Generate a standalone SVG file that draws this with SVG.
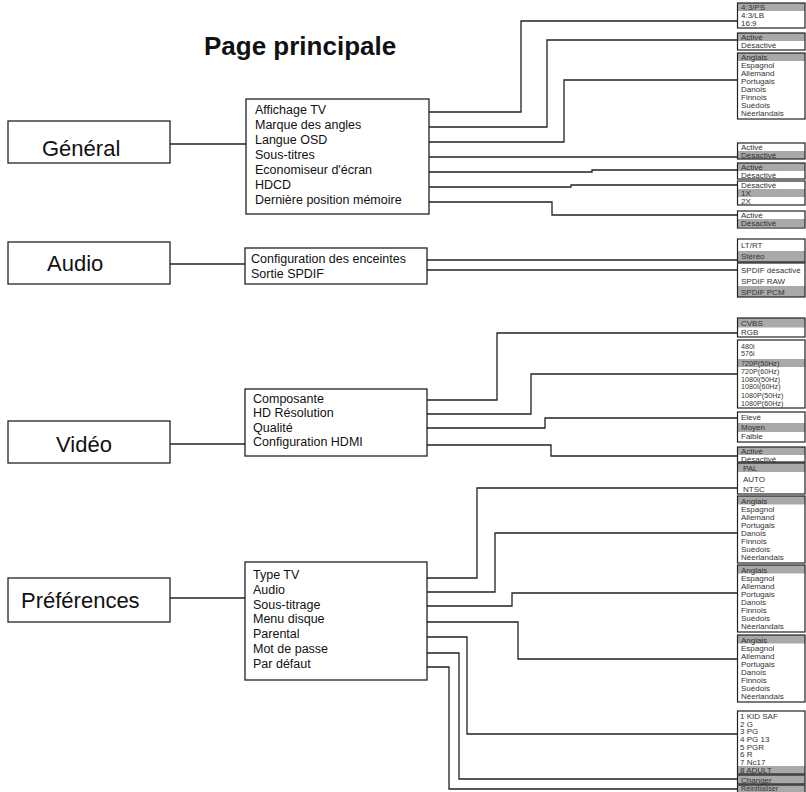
<svg xmlns="http://www.w3.org/2000/svg" width="806" height="792" viewBox="0 0 806 792">
<style>
.bg{fill:#fff}
.box{fill:#fff;stroke:#222;stroke-width:1.3}
.ob{fill:none;stroke:#222;stroke-width:1.2}
.hl{fill:#a9a9a9}
.title{font-family:"Liberation Sans",Arial,sans-serif;font-weight:bold;font-size:26px;fill:#111}
.big{font-family:"Liberation Sans",Arial,sans-serif;font-size:22px;fill:#111}
.mid{font-family:"Liberation Sans",Arial,sans-serif;font-size:12.5px;fill:#111}
.opt{font-family:"Liberation Sans",Arial,sans-serif;font-size:8px;fill:#333}
.sm{font-size:7.2px}
.c{fill:none;stroke:#222;stroke-width:1.3}
</style>
<rect class="bg" x="0" y="0" width="806" height="792"/>
<text class="title" x="204" y="55">Page principale</text>

<g id="connectors">
<path class="c" d="M170,144H246"/>
<path class="c" d="M170,264H245"/>
<path class="c" d="M170,444H245"/>
<path class="c" d="M170,598H245"/>
<path class="c" d="M348,112H521V21H737"/>
<path class="c" d="M371,127H547V40H737"/>
<path class="c" d="M351,142H564V80H737"/>
<path class="c" d="M321,157H737"/>
<path class="c" d="M380,172H592V170H737"/>
<path class="c" d="M317,187H571V185H737"/>
<path class="c" d="M410,202H552V215H737"/>
<path class="c" d="M409,260H737"/>
<path class="c" d="M328,270H737"/>
<path class="c" d="M347,400H497V333H737"/>
<path class="c" d="M338,414H531V374H737"/>
<path class="c" d="M312,428H545V418H737"/>
<path class="c" d="M370,445H551V456H737"/>
<path class="c" d="M313,578H477V488H737"/>
<path class="c" d="M323,592H495V533H737"/>
<path class="c" d="M329,606H512V593H737"/>
<path class="c" d="M339,622H518V659H737"/>
<path class="c" d="M304,637H467V734H737"/>
<path class="c" d="M340,653H459V779H737"/>
<path class="c" d="M334,667H449V789H737"/>
</g>

<g id="general">
<rect class="box" x="8" y="121" width="162" height="42"/>
<text class="big" x="42" y="156">Général</text>
</g>
<g id="audio">
<rect class="box" x="8" y="242" width="162" height="42"/>
<text class="big" x="47" y="271">Audio</text>
</g>
<g id="video">
<rect class="box" x="8" y="421" width="162" height="42"/>
<text class="big" x="56" y="452">Vidéo</text>
</g>
<g id="preferences">
<rect class="box" x="8" y="578" width="162" height="44"/>
<text class="big" x="21" y="608">Préférences</text>
</g>

<g id="general-menu">
<rect class="box" x="246" y="99" width="183" height="115"/>
<text class="mid" x="255" y="114">Affichage TV</text>
<text class="mid" x="255" y="129">Marque des angles</text>
<text class="mid" x="255" y="144">Langue OSD</text>
<text class="mid" x="255" y="159">Sous-titres</text>
<text class="mid" x="255" y="174">Economiseur d'écran</text>
<text class="mid" x="255" y="189">HDCD</text>
<text class="mid" x="255" y="204">Dernière position mémoire</text>
</g>
<g id="audio-menu">
<rect class="box" x="245" y="248" width="182" height="36"/>
<text class="mid" x="251" y="263">Configuration des enceintes</text>
<text class="mid" x="251" y="278">Sortie SPDIF</text>
</g>
<g id="video-menu">
<rect class="box" x="245" y="389" width="182" height="67"/>
<text class="mid" x="253" y="403">Composante</text>
<text class="mid" x="253" y="417">HD Résolution</text>
<text class="mid" x="253" y="431.5">Qualité</text>
<text class="mid" x="253" y="446">Configuration HDMI</text>
</g>
<g id="preferences-menu">
<rect class="box" x="245" y="562" width="182" height="118"/>
<text class="mid" x="253" y="579">Type TV</text>
<text class="mid" x="253" y="594">Audio</text>
<text class="mid" x="253" y="608.5">Sous-titrage</text>
<text class="mid" x="253" y="623">Menu disque</text>
<text class="mid" x="253" y="638">Parental</text>
<text class="mid" x="253" y="653">Mot de passe</text>
<text class="mid" x="253" y="667.5">Par défaut</text>
</g>

<g id="opt-affichage">
<rect class="hl" x="737" y="3" width="68" height="8"/>
<rect class="ob" x="737.5" y="3" width="67.5" height="25"/>
<text class="opt" x="741" y="10">4:3/PS</text>
<text class="opt" x="741" y="18">4:3/LB</text>
<text class="opt" x="741" y="26">16:9</text>
</g>
<g id="opt-angles">
<rect class="hl" x="737" y="33" width="68" height="8"/>
<rect class="ob" x="737.5" y="33" width="67.5" height="17"/>
<text class="opt" x="741" y="40">Activé</text>
<text class="opt" x="741" y="48">Désactivé</text>
</g>
<g id="opt-osd">
<rect class="hl" x="737" y="53" width="68" height="8"/>
<rect class="ob" x="737.5" y="53" width="67.5" height="66"/>
<text class="opt" x="741" y="60">Anglais</text>
<text class="opt" x="741" y="68">Espagnol</text>
<text class="opt" x="741" y="76">Allemand</text>
<text class="opt" x="741" y="84">Portugais</text>
<text class="opt" x="741" y="92">Danois</text>
<text class="opt" x="741" y="100">Finnois</text>
<text class="opt" x="741" y="108">Suédois</text>
<text class="opt" x="741" y="116">Néerlandais</text>
</g>
<g id="opt-soustitres">
<rect class="hl" x="737" y="151" width="68" height="8"/>
<rect class="ob" x="737.5" y="143" width="67.5" height="16"/>
<text class="opt" x="741" y="150">Activé</text>
<text class="opt" x="741" y="158">Désactivé</text>
</g>
<g id="opt-economiseur">
<rect class="hl" x="737" y="163" width="68" height="8"/>
<rect class="ob" x="737.5" y="163" width="67.5" height="16"/>
<text class="opt" x="741" y="170">Activé</text>
<text class="opt" x="741" y="178">Désactivé</text>
</g>
<g id="opt-hdcd">
<rect class="hl" x="737" y="189" width="68" height="8"/>
<rect class="ob" x="737.5" y="181" width="67.5" height="24"/>
<text class="opt" x="741" y="188">Désactivé</text>
<text class="opt" x="741" y="196">1X</text>
<text class="opt" x="741" y="204">2X</text>
</g>
<g id="opt-memoire">
<rect class="hl" x="737" y="219" width="68" height="8"/>
<rect class="ob" x="737.5" y="211" width="67.5" height="17"/>
<text class="opt" x="741" y="218">Activé</text>
<text class="opt" x="741" y="226">Désactivé</text>
</g>

<g id="opt-enceintes">
<rect class="hl" x="737" y="251" width="68" height="11"/>
<rect class="ob" x="737.5" y="239" width="67.5" height="23"/>
<text class="opt" x="741" y="248">LT/RT</text>
<text class="opt" x="741" y="259">Stéréo</text>
</g>
<g id="opt-spdif">
<rect class="hl" x="737" y="286" width="68" height="11"/>
<rect class="ob" x="737.5" y="263" width="67.5" height="34"/>
<text class="opt" x="741" y="272.5">SPDIF désactivé</text>
<text class="opt" x="741" y="283.5">SPDIF RAW</text>
<text class="opt" x="741" y="294.5">SPDIF PCM</text>
</g>

<g id="opt-composante">
<rect class="hl" x="737" y="318" width="68" height="9.5"/>
<rect class="ob" x="737.5" y="318" width="67.5" height="19"/>
<text class="opt" x="741" y="325.5">CVBS</text>
<text class="opt" x="741" y="335">RGB</text>
</g>
<g id="opt-resolution">
<rect class="hl" x="737" y="359" width="68" height="8"/>
<rect class="ob" x="737.5" y="340" width="67.5" height="68"/>
<text class="opt sm" x="741" y="348.5">480i</text>
<text class="opt sm" x="741" y="356">576i</text>
<text class="opt sm" x="741" y="365.5">720P(50Hz)</text>
<text class="opt sm" x="741" y="373.5">720P(60Hz)</text>
<text class="opt sm" x="741" y="381.5">1080i(50Hz)</text>
<text class="opt sm" x="741" y="389">1080I(60Hz)</text>
<text class="opt sm" x="741" y="397.5">1080P(50Hz)</text>
<text class="opt sm" x="741" y="405.5">1080P(60Hz)</text>
</g>
<g id="opt-qualite">
<rect class="hl" x="737" y="423" width="68" height="9"/>
<rect class="ob" x="737.5" y="412" width="67.5" height="30"/>
<text class="opt" x="741" y="420">Elevé</text>
<text class="opt" x="741" y="430">Moyen</text>
<text class="opt" x="741" y="439">Faible</text>
</g>
<g id="opt-hdmi">
<rect class="hl" x="737" y="447" width="68" height="8"/>
<rect class="ob" x="737.5" y="447" width="67.5" height="15"/>
<text class="opt" x="741" y="454">Activé</text>
<text class="opt" x="741" y="461.5">Désactivé</text>
</g>
<g id="opt-typetv">
<rect class="hl" x="737" y="463" width="68" height="9"/>
<rect class="ob" x="737.5" y="463" width="67.5" height="31"/>
<text class="opt" x="743" y="470.5">PAL</text>
<text class="opt" x="743" y="481.5">AUTO</text>
<text class="opt" x="743" y="492">NTSC</text>
</g>

<g id="opt-audio-lang">
<rect class="hl" x="737" y="496" width="68" height="8.5"/>
<rect class="ob" x="737.5" y="496" width="67.5" height="67"/>
<text class="opt" x="741" y="503.5">Anglais</text>
<text class="opt" x="741" y="511.5">Espagnol</text>
<text class="opt" x="741" y="519.5">Allemand</text>
<text class="opt" x="741" y="527.5">Portugais</text>
<text class="opt" x="741" y="535.5">Danois</text>
<text class="opt" x="741" y="543.5">Finnois</text>
<text class="opt" x="741" y="551.5">Suédois</text>
<text class="opt" x="741" y="560">Néerlandais</text>
</g>
<g id="opt-soustitrage-lang">
<rect class="hl" x="737" y="565" width="68" height="8.5"/>
<rect class="ob" x="737.5" y="565" width="67.5" height="67"/>
<text class="opt" x="741" y="572.5">Anglais</text>
<text class="opt" x="741" y="580.5">Espagnol</text>
<text class="opt" x="741" y="588.5">Allemand</text>
<text class="opt" x="741" y="596.5">Portugais</text>
<text class="opt" x="741" y="604.5">Danois</text>
<text class="opt" x="741" y="612.5">Finnois</text>
<text class="opt" x="741" y="620.5">Suédois</text>
<text class="opt" x="741" y="629">Néerlandais</text>
</g>
<g id="opt-menu-lang">
<rect class="hl" x="737" y="635" width="68" height="8.5"/>
<rect class="ob" x="737.5" y="635" width="67.5" height="67"/>
<text class="opt" x="741" y="642.5">Anglais</text>
<text class="opt" x="741" y="650.5">Espagnol</text>
<text class="opt" x="741" y="658.5">Allemand</text>
<text class="opt" x="741" y="666.5">Portugais</text>
<text class="opt" x="741" y="674.5">Danois</text>
<text class="opt" x="741" y="682.5">Finnois</text>
<text class="opt" x="741" y="690.5">Suédois</text>
<text class="opt" x="741" y="699">Néerlandais</text>
</g>
<g id="opt-parental">
<rect class="hl" x="737" y="766" width="68" height="8"/>
<rect class="ob" x="737.5" y="711" width="67.5" height="63"/>
<text class="opt" x="740" y="718.5">1 KID SAF</text>
<text class="opt" x="740" y="726.5">2 G</text>
<text class="opt" x="740" y="734">3 PG</text>
<text class="opt" x="740" y="742">4 PG 13</text>
<text class="opt" x="740" y="749.5">5 PGR</text>
<text class="opt" x="740" y="757">6 R</text>
<text class="opt" x="740" y="765">7 Nc17</text>
<text class="opt" x="740" y="772.5">8 ADULT</text>
</g>
<g id="opt-motdepasse">
<rect class="hl" x="737" y="775" width="68" height="9"/>
<rect class="ob" x="737.5" y="775" width="67.5" height="9"/>
<text class="opt" x="741" y="782.5">Changer</text>
</g>
<g id="opt-defaut">
<rect class="hl" x="737" y="785" width="68" height="9"/>
<rect class="ob" x="737.5" y="785" width="67.5" height="9"/>
<text class="opt sm" x="741" y="791">Réinitialiser</text>
</g>
</svg>
